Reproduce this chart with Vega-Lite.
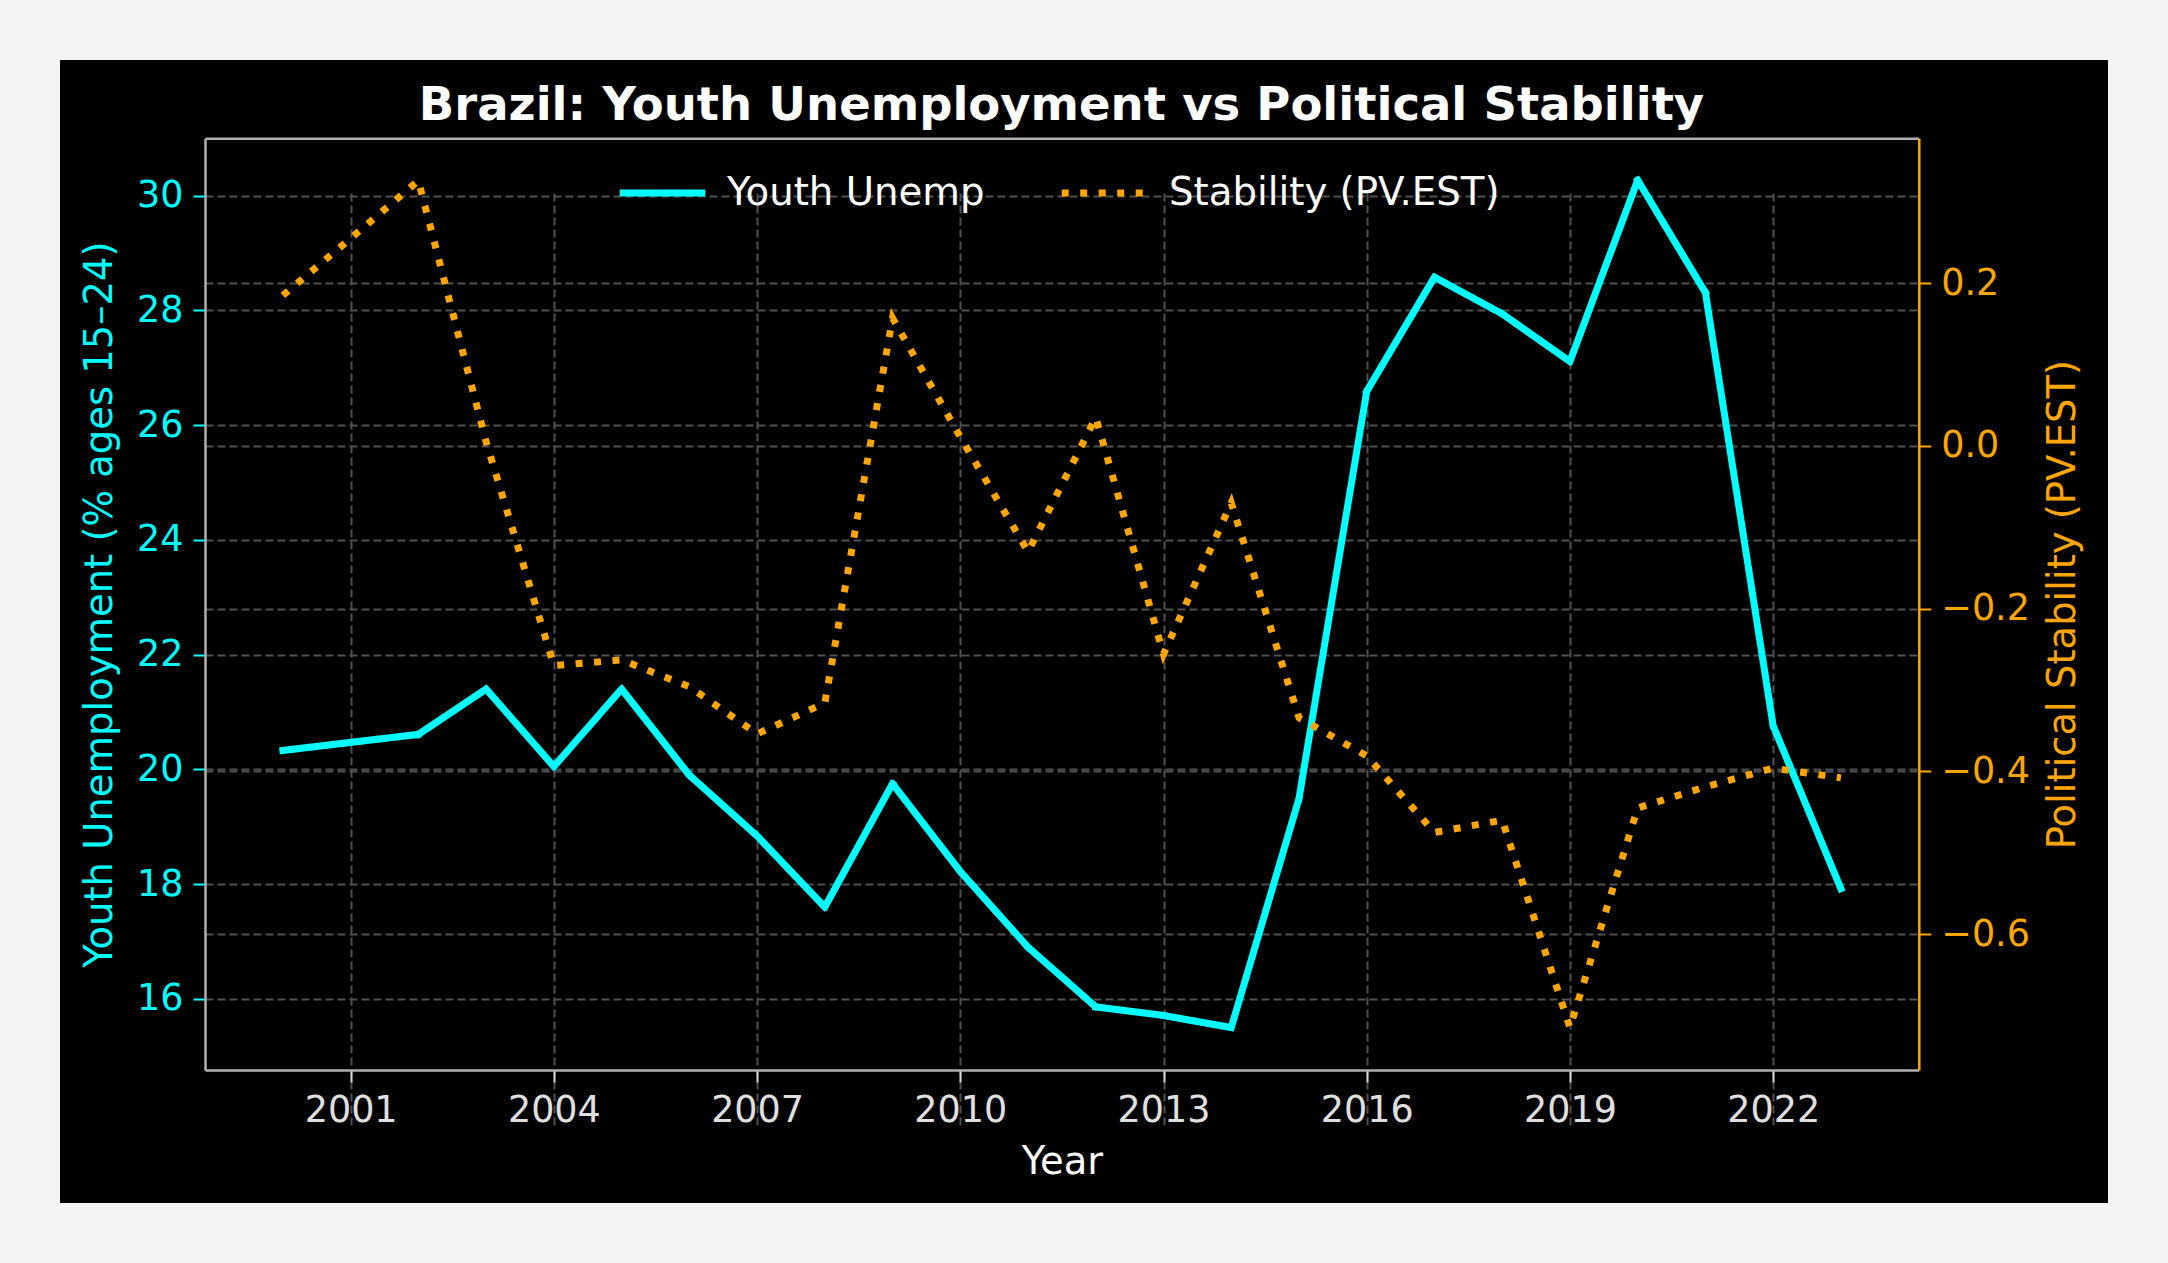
{
  "$schema": "https://vega.github.io/schema/vega-lite/v6.json",
  "width": 2048,
  "height": 1143,
  "autosize": "none",
  "padding": {"left": 60, "top": 60, "right": 60, "bottom": 60},
  "background": "#f4f4f4",
  "config": {
    "view": {"fill": "#000000", "stroke": null},
    "font": "DejaVu Sans",
    "axis": {
      "gridColor": "#505050",
      "gridDash": [8, 4],
      "gridWidth": 2,
      "tickSize": 12,
      "tickWidth": 2,
      "domainWidth": 2.5,
      "labelFont": "DejaVu Sans",
      "titleFont": "DejaVu Sans",
      "labelFontSize": 36.5,
      "titleFontSize": 38.5,
      "titleFontWeight": "normal",
      "labelPadding": 10
    }
  },
  "title": {
    "text": "Brazil: Youth Unemployment vs Political Stability",
    "font": "DejaVu Sans",
    "fontSize": 46.5,
    "fontWeight": "bold",
    "color": "#ffffff",
    "anchor": "middle",
    "baseline": "alphabetic",
    "offset": -106,
    "dx": -22.5
  },
  "data": {
    "values": [
      {"year": 2000, "series": "Youth Unemp", "value": 20.33},
      {"year": 2001, "series": "Youth Unemp", "value": 20.47},
      {"year": 2002, "series": "Youth Unemp", "value": 20.61},
      {"year": 2003, "series": "Youth Unemp", "value": 21.4},
      {"year": 2004, "series": "Youth Unemp", "value": 20.05},
      {"year": 2005, "series": "Youth Unemp", "value": 21.4},
      {"year": 2006, "series": "Youth Unemp", "value": 19.9},
      {"year": 2007, "series": "Youth Unemp", "value": 18.84},
      {"year": 2008, "series": "Youth Unemp", "value": 17.6},
      {"year": 2009, "series": "Youth Unemp", "value": 19.75},
      {"year": 2010, "series": "Youth Unemp", "value": 18.22},
      {"year": 2011, "series": "Youth Unemp", "value": 16.9},
      {"year": 2012, "series": "Youth Unemp", "value": 15.86},
      {"year": 2013, "series": "Youth Unemp", "value": 15.71},
      {"year": 2014, "series": "Youth Unemp", "value": 15.5},
      {"year": 2015, "series": "Youth Unemp", "value": 19.49},
      {"year": 2016, "series": "Youth Unemp", "value": 26.59},
      {"year": 2017, "series": "Youth Unemp", "value": 28.58},
      {"year": 2018, "series": "Youth Unemp", "value": 27.94},
      {"year": 2019, "series": "Youth Unemp", "value": 27.11},
      {"year": 2020, "series": "Youth Unemp", "value": 30.27},
      {"year": 2021, "series": "Youth Unemp", "value": 28.31},
      {"year": 2022, "series": "Youth Unemp", "value": 20.76},
      {"year": 2023, "series": "Youth Unemp", "value": 17.92},
      {"year": 2000, "series": "Stability (PV.EST)", "value": 0.185},
      {"year": 2001, "series": "Stability (PV.EST)", "value": 0.255},
      {"year": 2002, "series": "Stability (PV.EST)", "value": 0.326},
      {"year": 2003, "series": "Stability (PV.EST)", "value": 0.005},
      {"year": 2004, "series": "Stability (PV.EST)", "value": -0.27},
      {"year": 2005, "series": "Stability (PV.EST)", "value": -0.263},
      {"year": 2006, "series": "Stability (PV.EST)", "value": -0.296},
      {"year": 2007, "series": "Stability (PV.EST)", "value": -0.354},
      {"year": 2008, "series": "Stability (PV.EST)", "value": -0.316},
      {"year": 2009, "series": "Stability (PV.EST)", "value": 0.157},
      {"year": 2010, "series": "Stability (PV.EST)", "value": 0.011},
      {"year": 2011, "series": "Stability (PV.EST)", "value": -0.13},
      {"year": 2012, "series": "Stability (PV.EST)", "value": 0.035},
      {"year": 2013, "series": "Stability (PV.EST)", "value": -0.256},
      {"year": 2014, "series": "Stability (PV.EST)", "value": -0.07},
      {"year": 2015, "series": "Stability (PV.EST)", "value": -0.334},
      {"year": 2016, "series": "Stability (PV.EST)", "value": -0.381},
      {"year": 2017, "series": "Stability (PV.EST)", "value": -0.475},
      {"year": 2018, "series": "Stability (PV.EST)", "value": -0.46},
      {"year": 2019, "series": "Stability (PV.EST)", "value": -0.715},
      {"year": 2020, "series": "Stability (PV.EST)", "value": -0.445},
      {"year": 2021, "series": "Stability (PV.EST)", "value": -0.419},
      {"year": 2022, "series": "Stability (PV.EST)", "value": -0.396},
      {"year": 2023, "series": "Stability (PV.EST)", "value": -0.408}
    ]
  },
  "layer": [
    {
      "transform": [{"filter": "datum.series === 'Youth Unemp'"}],
      "mark": {"type": "line", "strokeWidth": 7, "strokeCap": "square", "strokeJoin": "round"},
      "encoding": {
        "x": {
          "field": "year", "type": "quantitative",
          "scale": {"domain": [1998.85, 2024.15], "range": [145, 1858.8], "nice": false, "zero": false},
          "axis": {
            "orient": "bottom", "offset": -133,
            "values": [2001, 2004, 2007, 2010, 2013, 2016, 2019, 2022],
            "format": "d",
            "title": "Year", "titleColor": "#ffffff", "titlePadding": 15,
            "labelColor": "#e0e0e0", "tickColor": "#d8d8d8", "domainColor": "#b0b0b0",
            "grid": true
          }
        },
        "y": {
          "field": "value", "type": "quantitative",
          "scale": {"domain": [14.76, 31.0], "range": [1010, 78.3], "nice": false, "zero": false},
          "axis": {
            "orient": "left", "offset": -145,
            "values": [16, 18, 20, 22, 24, 26, 28, 30],
            "format": "d",
            "title": "Youth Unemployment (% ages 15–24)",
            "titleColor": "#00ffff", "titlePadding": 17,
            "labelColor": "#00ffff", "tickColor": "#00ffff", "domainColor": "#b0b0b0",
            "grid": true
          }
        },
        "color": {
          "field": "series", "type": "nominal",
          "scale": {"domain": ["Youth Unemp", "Stability (PV.EST)"], "range": ["#00ffff", "#ffa500"]},
          "legend": {
            "orient": "none", "legendX": 556, "legendY": 86,
            "direction": "horizontal", "title": null,
            "symbolType": "stroke", "symbolSize": 7327, "symbolStrokeWidth": 7,
            "labelFontSize": 38.7, "labelColor": "#ffffff", "labelFont": "DejaVu Sans",
            "labelOffset": 18, "labelLimit": 0, "columnPadding": 62, "padding": 0
          }
        },
        "strokeDash": {
          "field": "series", "type": "nominal",
          "scale": {"domain": ["Youth Unemp", "Stability (PV.EST)"], "range": [[1, 0], [7, 11.5]]},
          "legend": {
            "orient": "none", "legendX": 556, "legendY": 86,
            "direction": "horizontal", "title": null,
            "symbolType": "stroke", "symbolSize": 7327, "symbolStrokeWidth": 7,
            "labelFontSize": 38.7, "labelColor": "#ffffff", "labelFont": "DejaVu Sans",
            "labelOffset": 18, "labelLimit": 0, "columnPadding": 62, "padding": 0
          }
        }
      }
    },
    {
      "layer": [
        {
          "transform": [{"filter": "datum.series === 'Stability (PV.EST)'"}],
          "mark": {"type": "line", "strokeOpacity": 0},
          "encoding": {
            "x": {
              "field": "year", "type": "quantitative",
              "scale": {"domain": [1998.85, 2024.15], "range": [145, 1858.8], "nice": false, "zero": false},
              "axis": null
            },
            "y": {
              "field": "value", "type": "quantitative",
              "scale": {"domain": [-0.767, 0.378], "range": [1010, 78.3], "nice": false, "zero": false},
              "axis": {
                "orient": "left", "offset": -145,
                "values": [-0.6, -0.4, -0.2, 0, 0.2],
                "grid": true, "labels": false, "ticks": false, "domain": false, "title": null
              }
            }
          }
        },
        {
          "transform": [{"filter": "datum.series === 'Stability (PV.EST)'"}],
          "mark": {"type": "line", "strokeWidth": 7, "strokeCap": "butt"},
          "encoding": {
            "x": {
              "field": "year", "type": "quantitative",
              "scale": {"domain": [1998.85, 2024.15], "range": [145, 1858.8], "nice": false, "zero": false},
              "axis": {
                "orient": "top", "offset": -78.3,
                "labels": false, "ticks": false, "grid": false, "title": null,
                "domainColor": "#b0b0b0"
              }
            },
            "y": {
              "field": "value", "type": "quantitative",
              "scale": {"domain": [-0.767, 0.378], "range": [1010, 78.3], "nice": false, "zero": false},
              "axis": {
                "orient": "right", "offset": -189.2,
                "values": [-0.6, -0.4, -0.2, 0, 0.2],
                "format": ".1f",
                "title": "Political Stability (PV.EST)",
                "titleColor": "#ffa500", "titleAngle": 270, "titleBaseline": "top", "titlePadding": 15,
                "labelColor": "#ffa500", "tickColor": "#ffa500", "domainColor": "#ffa500",
                "grid": false
              }
            },
            "color": {"field": "series", "type": "nominal"},
            "strokeDash": {"field": "series", "type": "nominal"}
          }
        }
      ],
      "resolve": {"axis": {"x": "independent", "y": "independent"}}
    }
  ],
  "resolve": {
    "scale": {"y": "independent"},
    "axis": {"x": "independent", "y": "independent"}
  }
}
